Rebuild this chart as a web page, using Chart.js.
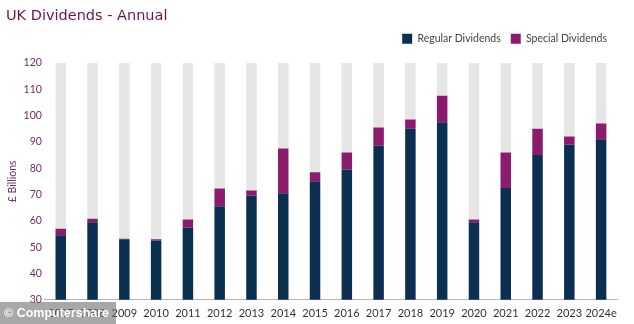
<!DOCTYPE html>
<html>
<head>
<meta charset="utf-8">
<script src="https://cdn.jsdelivr.net/npm/chart.js@4.4.1/dist/chart.umd.min.js"></script>
<style>
  body { margin: 0; background: #fff; }
  #wrap { position: relative; width: 634px; height: 324px; }
  #mark {
    position: absolute; left: 0; top: 302px; width: 116px; height: 22px;
    background: rgba(110, 110, 110, 0.6); color: #fff;
    font: bold 12.5px "Liberation Sans", Arial, sans-serif;
    line-height: 22px; padding-left: 4px; box-sizing: border-box;
    white-space: nowrap; overflow: hidden;
  }
</style>
</head>
<body>
<div id="wrap">
  <canvas id="myChart" width="634" height="324"></canvas>
  <div id="mark">© Computershare</div>
</div>
<script>
var years = ['2007', '2008', '2009', '2010', '2011', '2012', '2013', '2014', '2015',
             '2016', '2017', '2018', '2019', '2020', '2021', '2022', '2023', '2024e'];
var regular = [54.5, 59.5, 53, 52.5, 57.5, 65.5, 69.5, 70.5, 75,
               79.5, 88.5, 95, 97.5, 59.5, 72.5, 85, 89, 91];
var special = [2.5, 1.3, 0.2, 0.5, 3, 6.8, 2, 17, 3.5,
               6.5, 7, 3.5, 10, 1, 13.5, 10, 3, 6];
var axisMax = 120;

// grey bar fills the rest of each column up to the top of the axis
var rest = years.map(function(y, i) {
    return axisMax - regular[i] - special[i];
});

// a bit more room under the legend
const legendGap = {
    id: 'legendGap',
    beforeInit(chart) {
        const fit = chart.legend.fit;
        chart.legend.fit = function() {
            fit.bind(chart.legend)();
            this.height += 9;
        };
    }
};

const ctx = document.getElementById('myChart').getContext('2d');
new Chart(ctx, {
    type: 'bar',
    data: {
        labels: years,
        datasets: [{
            label: 'Regular Dividends',
            data: regular,
            backgroundColor: '#0b2f50',
            borderWidth: 0
        }, {
            label: 'Special Dividends',
            data: special,
            backgroundColor: '#8c1a6d',
            borderWidth: 0
        }, {
            label: 'rest',
            data: rest,
            backgroundColor: '#e6e6e6',
            borderWidth: 0
        }]
    },
    options: {
        responsive: false,
        animation: false,
        layout: { padding: { left: 6, right: 17, top: 0, bottom: -3 } },
        datasets: {
            bar: { barPercentage: 0.33, categoryPercentage: 1 }
        },
        scales: {
            x: {
                stacked: true,
                grid: { display: false, drawTicks: false },
                border: { display: true, color: '#b5b5b5', width: 1 },
                ticks: {
                    color: '#333',
                    font: { family: 'Lato', size: 11 },
                    maxRotation: 0,
                    autoSkip: false,
                    padding: 7
                }
            },
            y: {
                stacked: true,
                min: 30,
                max: axisMax,
                grid: { display: false, drawTicks: false },
                border: { display: false },
                ticks: {
                    stepSize: 10,
                    color: '#6e2f68',
                    font: { family: 'Lato', size: 10.5 },
                    padding: 3
                },
                title: {
                    display: true,
                    text: '£ Billions',
                    color: '#6e2f68',
                    font: { family: 'Lato', size: 10.5 },
                    padding: { top: 0, bottom: 2 }
                }
            }
        },
        plugins: {
            title: {
                display: true,
                text: 'UK Dividends - Annual',
                align: 'start',
                color: '#6b1451',
                font: { family: 'DejaVu Sans', size: 14.5, weight: 'normal' },
                padding: { top: 8, bottom: -2 }
            },
            legend: {
                position: 'top',
                align: 'end',
                labels: {
                    color: '#444',
                    font: { family: 'Lato', size: 10.5 },
                    boxWidth: 10,
                    boxHeight: 10,
                    padding: 10,
                    filter: function(item) {
                        return item.text !== 'rest';
                    }
                }
            },
            tooltip: { enabled: false }
        }
    },
    plugins: [legendGap]
});
</script>
</body>
</html>
